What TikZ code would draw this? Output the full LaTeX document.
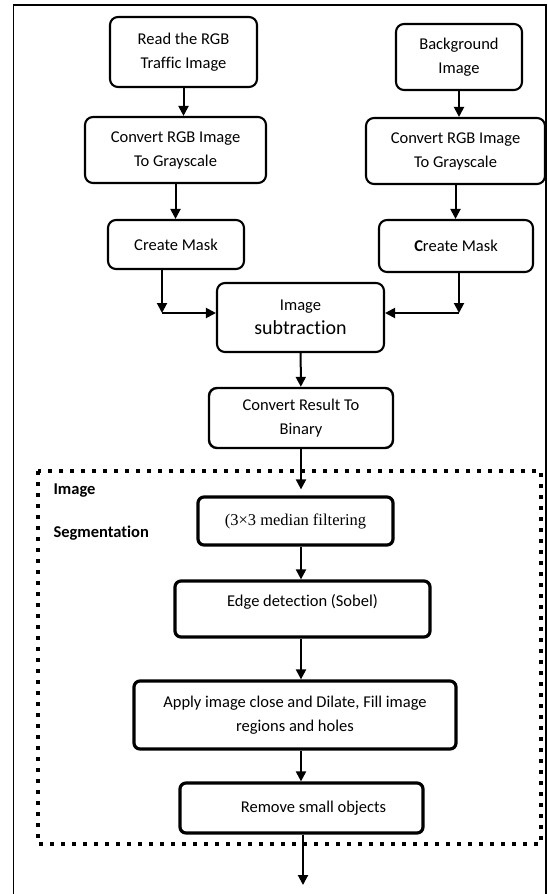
\documentclass[tikz,border=0pt]{standalone}
\usepackage{fontspec}
\setmainfont{Carlito}[Ligatures=NoCommon]
\newfontfamily\timesfont{Liberation Serif}
\usetikzlibrary{arrows.meta}

\begin{document}
\begin{tikzpicture}[x=1pt, y=-1pt,
	box/.style = {draw, line width=2.1pt, rounded corners=8pt, align=center, inner sep=2pt,
		font=\fontsize{16.5}{24}\selectfont},
	segbox/.style = {box, line width=3.2pt, rounded corners=6pt},
	flow/.style = {line width=2pt, -{Triangle[length=10pt,width=10pt]}}]

	\useasboundingbox (0,0) rectangle (547,894);
	\draw[line width=1.4pt] (13.5,894) -- (13.5,5) -- (546,5) -- (546,894);
	\draw[line width=4pt, dash pattern=on 4pt off 7pt] (38,471) rectangle (541,844);

	\node[box, minimum width=147pt, minimum height=70pt] (rgb) at (183.5,52) {Read the RGB\\Traffic Image};
	\node[box, minimum width=126pt, minimum height=66pt] (bg) at (459,57) {Background\\Image};
	\node[box, minimum width=181pt, minimum height=66pt] (grayL) at (175.5,150) {Convert RGB Image\\To Grayscale};
	\node[box, minimum width=179pt, minimum height=66pt] (grayR) at (455.5,151) {Convert RGB Image\\To Grayscale};
	\node[box, minimum width=136pt, minimum height=49pt] (maskL) at (176,244.5) {Create Mask};
	\node[box, minimum width=154pt, minimum height=52pt] (maskR) at (456,246) {\textbf{C}reate Mask};
	\node[box, minimum width=167pt, minimum height=69pt] (sub) at (300.5,317.5) {Image\\{\fontsize{20}{25}\selectfont subtraction}};
	\node[box, line width=2.4pt, minimum width=184pt, minimum height=60pt] (bin) at (301,418) {Convert Result To\\Binary};

	\node[anchor=west, font=\bfseries\fontsize{16.5}{24}\selectfont] (segA) at (50,491) {Image};
	\node[anchor=west, font=\bfseries\fontsize{16.5}{24}\selectfont] (segB) at (50,533) {Segmentation};

	\node[segbox, minimum width=195pt, minimum height=48pt, font=\timesfont\fontsize{16.5}{24}\selectfont] (median) at (295.5,521) {(3×3 median filtering};
	\node[segbox, minimum width=255pt, minimum height=56pt, text depth=17pt] (edge) at (302.5,609) {Edge detection (Sobel)};
	\node[segbox, minimum width=322pt, minimum height=68pt] (fill) at (295,715) {Apply image close and Dilate, Fill image\\regions and holes};
	\node[segbox, minimum width=243pt, minimum height=50pt] (small) at (301.5,808) {\hspace*{24pt}Remove small objects};

	\coordinate (joinL) at (162,313);
	\coordinate (joinR) at (459,313);
	\coordinate (out) at (303,885);

	% left and right branches
	\draw[flow] (rgb.south) -- (rgb.south |- grayL.north);
	\draw[flow] (bg.south) -- (bg.south |- grayR.north);
	\draw[flow] (grayL.south) -- (grayL.south |- maskL.north);
	\draw[flow] (grayR.south) -- (grayR.south |- maskR.north);
	\draw[flow] (joinL |- maskL.south) -- (joinL);
	\draw[flow] (joinL) -- (joinL -| sub.west);
	\draw[flow] (joinR |- maskR.south) -- (joinR);
	\draw[flow] (joinR) -- (joinR -| sub.east);

	% main column
	\draw[flow] (sub) -- (bin);
	\draw[flow, shorten >=6pt] (bin.south) -- (bin.south |- median.north);
	\draw[flow] (median.south -| bin) -- (edge.north -| bin);
	\draw[flow] (edge.south -| bin) -- (fill.north -| bin);
	\draw[flow] (fill.south -| bin) -- (small.north -| bin);
	\draw[flow] (small.south -| out) -- (out);

\end{tikzpicture}
\end{document}
